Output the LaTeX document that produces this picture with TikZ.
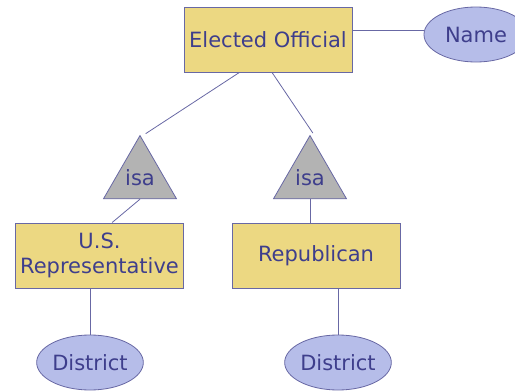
\documentclass[tikz,border=0pt]{standalone}
\usepackage{fontspec}
\setmainfont{DejaVu Sans}
\usetikzlibrary{shapes.geometric}

\definecolor{inkblue}{RGB}{62,62,140}
\definecolor{edgeblue}{RGB}{104,104,164}
\definecolor{boxfill}{RGB}{236,216,130}
\definecolor{attrfill}{RGB}{182,189,233}
\definecolor{isafill}{RGB}{179,179,179}

\begin{document}
\begin{tikzpicture}
[
  x=1pt, y=-1pt,
  entity/.style={draw=edgeblue, fill=boxfill, line width=1pt, text=inkblue,
    minimum width=168pt, minimum height=65pt, inner sep=0pt, align=center},
  attr/.style={ellipse, draw=edgeblue, fill=attrfill, line width=0.8pt, text=inkblue,
    minimum width=104pt, minimum height=55pt, inner sep=0pt},
  isa/.style={regular polygon, regular polygon sides=3, draw=edgeblue, fill=isafill,
    line width=0.8pt, text=inkblue, minimum size=84.3pt, inner sep=0pt},
  link/.style={draw=edgeblue, line width=0.8pt},
  shorten >=2pt,
  font=\fontsize{21}{25.5}\selectfont
]
 \clip (0,0) rectangle (515,391);

 \node[entity] (eo)    at (268,39.5)  {Elected Official};
 \node[attr]   (name)  at (476,34.5)  {Name};
 \node[isa]    (isal)  at (140,177.7) {isa};
 \node[isa]    (isar)  at (310,177.7) {isa};
 \node[entity] (usrep) at (99.5,255.5) {U.S.\\Representative};
 \node[entity] (rep)   at (316,255.5) {Republican};
 \node[attr]   (dl)    at (90,362.5)  {District};
 \node[attr]   (dr)    at (338,362.5) {District};

 % Name is hooked on a bit above the box centre
 \path[link,shorten >=0pt] (eo.east |- name.175) -- (name.175);

  \path[link] 
    (eo.229) edge ([xshift=4pt]isal.corner 1)
    (eo.277) edge ([xshift=4pt]isar.corner 1);

  \path[link,shorten >=0pt]
    (isal.south) edge (usrep.69)
    (isar.south) edge (isar.south |- rep.north)
    (usrep.south -| dl.north) edge (dl.north)
    (rep.south -| dr.north) edge (dr.north);
\end{tikzpicture}
\end{document}
